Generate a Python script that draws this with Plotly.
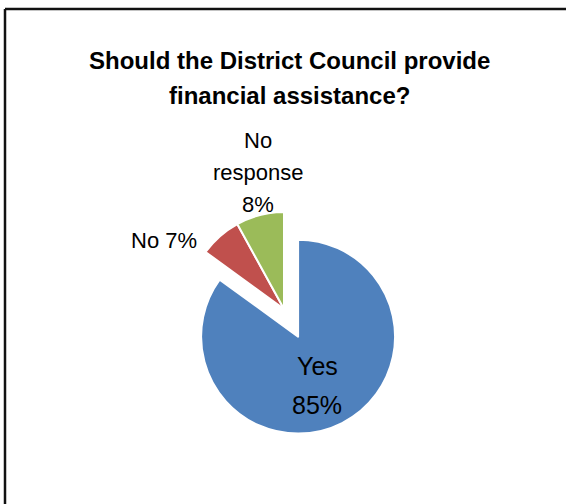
import plotly.graph_objects as go

# Survey responses
categories = ["Yes", "No", "No response"]
percentages = [85, 7, 8]
slice_colors = ["#4F81BD", "#C0504D", "#9BBB59"]
explode = [0.32, 0.0, 0.0]

title_lines = ["Should the District Council provide", "financial assistance?"]

W, H = 566, 504


def px(x):
    return x / W


def py(y):
    return 1 - y / H


fig = go.Figure(
    go.Pie(
        labels=categories,
        values=percentages,
        sort=False,
        direction="clockwise",
        rotation=0,
        pull=explode,
        marker=dict(colors=slice_colors, line=dict(color="white", width=2)),
        textinfo="none",
        hoverinfo="label+percent",
        showlegend=False,
        domain=dict(x=[px(156), px(412)], y=[py(437), py(181)]),
    )
)

annotations = []

# Title, one annotation per line
for i, line in enumerate(title_lines):
    annotations.append(dict(
        text=line, x=px(289), y=py(60 + 35 * i), xref="paper", yref="paper",
        xanchor="center", yanchor="middle", showarrow=False,
        font=dict(family="Liberation Sans", size=24, color="black", weight="bold"),
    ))

# Data labels: lines of text, centre x, first-line centre y, line step, font size
label_lines = {
    "Yes": ([categories[0], f"{percentages[0]}%"], 317, 366, 39, 25),
    "No": ([f"{categories[1]} {percentages[1]}%"], 164, 240, 0, 22),
    "No response": (["No", "response", f"{percentages[2]}%"], 258, 140, 32, 22),
}
for lines, cx, cy, step, size in label_lines.values():
    for j, t in enumerate(lines):
        annotations.append(dict(
            text=t, x=px(cx), y=py(cy + step * j), xref="paper", yref="paper",
            xanchor="center", yanchor="middle", showarrow=False,
            font=dict(family="Liberation Sans", size=size, color="black"),
        ))

fig.update_layout(
    width=W, height=H,
    margin=dict(l=0, r=0, t=0, b=0),
    paper_bgcolor="white",
    plot_bgcolor="white",
    annotations=annotations,
    shapes=[
        dict(type="line", xref="paper", yref="paper", x0=px(5), y0=py(9), x1=1, y1=py(9),
             line=dict(color="#111111", width=2.5)),
        dict(type="line", xref="paper", yref="paper", x0=px(5), y0=py(9), x1=px(5), y1=0,
             line=dict(color="#111111", width=2.5)),
    ],
)

fig.write_html("out.html")
